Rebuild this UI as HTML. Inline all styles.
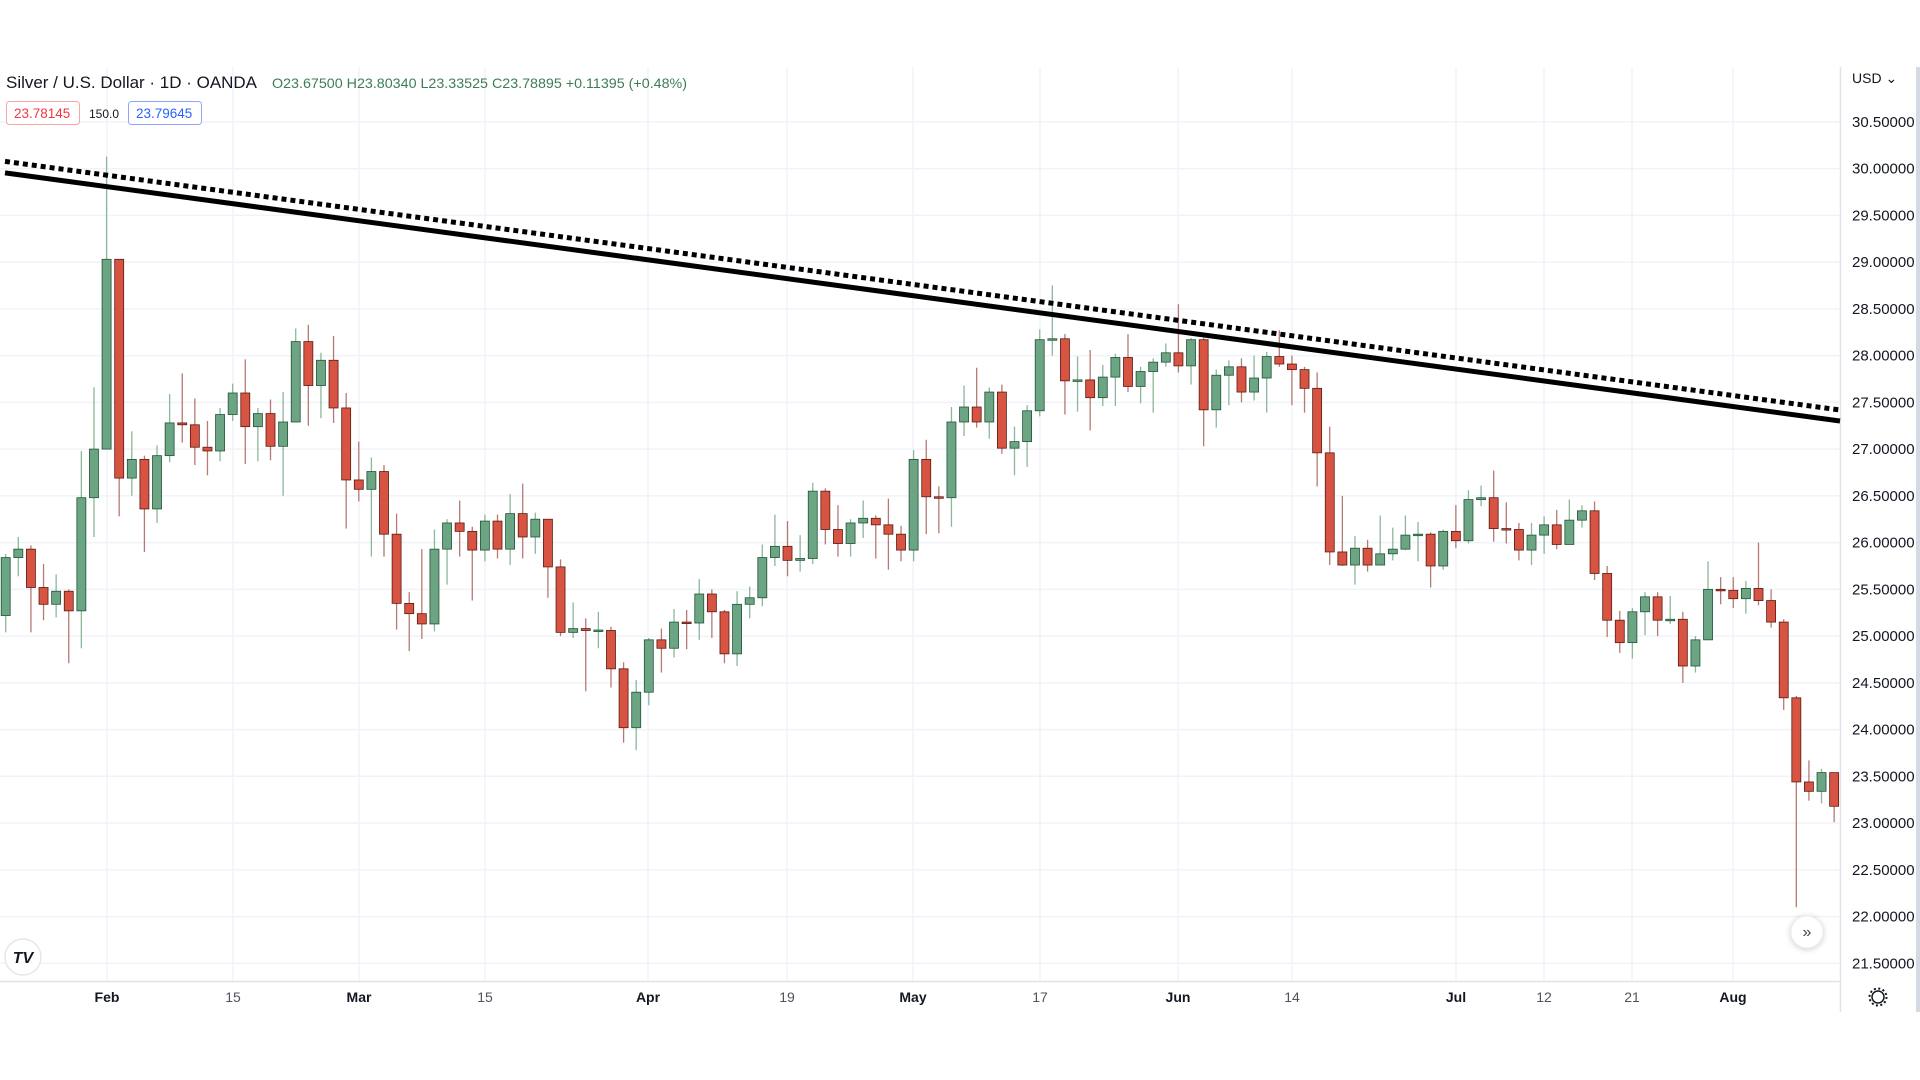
<!DOCTYPE html>
<html><head><meta charset="utf-8"><style>
body{margin:0;width:1920px;height:1080px;background:#fff;overflow:hidden;font-family:"Liberation Sans",sans-serif;}
svg{position:absolute;left:0;top:0}
</style></head><body>
<svg id="s" width="1920" height="1080" xmlns="http://www.w3.org/2000/svg">
<g id="grid"></g>
<line x1="0" y1="981.5" x2="1840" y2="981.5" stroke="#e0e3eb" stroke-width="1.5"/>
<line x1="1840.5" y1="67" x2="1840.5" y2="1012" stroke="#e0e3eb" stroke-width="1.5"/>
<rect x="1916" y="67" width="4" height="945" fill="#d5d9e4"/>
<g id="c"></g>
<line x1="5" y1="172.9" x2="1840" y2="421" stroke="#000" stroke-width="5"/>
<line x1="5" y1="161.4" x2="1840" y2="410" stroke="#000" stroke-width="5" stroke-dasharray="5 4"/>
<g font-size="15" fill="#131722" id="pl"></g>
<g font-size="14" fill="#131722" id="tl" text-anchor="middle"></g>
<text x="1852" y="83" font-size="14" fill="#131722">USD ⌄</text>
<text x="6" y="88" font-size="16.5" fill="#131722" textLength="251" lengthAdjust="spacingAndGlyphs">Silver / U.S. Dollar · 1D · OANDA</text>
<text x="272" y="88" font-size="14" fill="#3d7d55" textLength="415" lengthAdjust="spacingAndGlyphs">O23.67500 H23.80340 L23.33525 C23.78895 +0.11395 (+0.48%)</text>
<rect x="6.5" y="101.5" width="73" height="23" rx="3" fill="#fff" stroke="#f7a5a5"/>
<text x="14" y="118" font-size="13.5" fill="#f23645">23.78145</text>
<text x="89" y="118" font-size="12" fill="#131722">150.0</text>
<rect x="128.5" y="101.5" width="73" height="23" rx="3" fill="#fff" stroke="#8fa8ff"/>
<text x="136" y="118" font-size="13.5" fill="#2962ff">23.79645</text>
<circle cx="23" cy="957" r="18" fill="#fff" stroke="#e6e6e6" stroke-width="1.5"/>
<text x="23" y="963" font-size="16" font-weight="bold" fill="#131722" text-anchor="middle" font-style="italic">TV</text>
<circle cx="1807" cy="932" r="16" fill="#fff" stroke="#eee" style="filter:drop-shadow(0 1px 3px rgba(0,0,0,.2))"/>
<text x="1807" y="937" font-size="16" fill="#444" text-anchor="middle">»</text>
<circle cx="1878" cy="997" r="6" fill="none" stroke="#131722" stroke-width="1.5"/>
<circle cx="1878" cy="997" r="8.5" fill="none" stroke="#131722" stroke-width="2" stroke-dasharray="2 2.45"/>
</svg>
<script>
const NS="http://www.w3.org/2000/svg";
const Y=p=>168.6+(30-p)*93.5;
function el(t,a,par,txt){const e=document.createElementNS(NS,t);for(const k in a)e.setAttribute(k,a[k]);if(txt!==undefined)e.textContent=txt;document.getElementById(par).appendChild(e);return e;}
for(let i=0;i<=18;i++){const p=30.5-i*0.5,y=Y(p);el('line',{x1:0,x2:1840,y1:y,y2:y,stroke:'#f0f3fa','stroke-width':1.5},'grid');
 el('text',{x:1852,y:y+5},'pl',p.toFixed(5));}
const xs=[[107,'Feb',1],[233,'15'],[359,'Mar',1],[485,'15'],[648,'Apr',1],[787,'19'],[913,'May',1],[1040,'17'],[1178,'Jun',1],[1292,'14'],[1456,'Jul',1],[1544,'12'],[1632,'21'],[1733,'Aug',1]];
xs.forEach(a=>{el('line',{x1:a[0],x2:a[0],y1:67,y2:981,stroke:'#f0f3fa','stroke-width':1.5},'grid');
 const t=el('text',{x:a[0],y:1002},'tl',a[1]);if(a[2]){t.setAttribute('font-weight','bold');}else t.setAttribute('fill','#50535e');});
const d=[
[25.22,25.88,25.04,25.84],[25.84,26.06,25.64,25.93],[25.93,25.97,25.04,25.52],[25.52,25.77,25.17,25.34],[25.34,25.66,25.2,25.48],
[25.48,25.5,24.71,25.27],[25.27,26.98,24.87,26.48],[26.48,27.66,26.06,27.0],[27.0,30.13,27.0,29.03],[29.03,29.03,26.28,26.69],
[26.69,27.19,26.5,26.89],[26.89,26.93,25.9,26.36],[26.36,27.04,26.21,26.93],[26.93,27.59,26.86,27.28],[27.28,27.81,27.07,27.26],
[27.26,27.54,26.83,27.02],[27.02,27.3,26.72,26.98],[26.98,27.44,26.87,27.37],[27.37,27.7,27.3,27.6],[27.6,27.96,26.84,27.24],
[27.24,27.44,26.87,27.38],[27.38,27.53,26.88,27.03],[27.03,27.61,26.5,27.29],[27.29,28.29,27.29,28.15],[28.15,28.33,27.25,27.68],
[27.68,28.03,27.33,27.95],[27.95,28.21,27.28,27.44],[27.44,27.6,26.15,26.67],[26.67,27.08,26.44,26.57],[26.57,26.91,25.85,26.76],
[26.76,26.83,25.85,26.09],[26.09,26.31,25.07,25.35],[25.35,25.47,24.84,25.24],[25.24,25.93,24.97,25.13],[25.13,26.14,25.05,25.93],
[25.93,26.25,25.55,26.21],[26.21,26.45,25.85,26.12],[26.12,26.17,25.38,25.92],[25.92,26.3,25.8,26.23],[26.23,26.3,25.83,25.93],
[25.93,26.52,25.76,26.31],[26.31,26.63,25.83,26.06],[26.06,26.32,25.88,26.25],[26.25,26.25,25.41,25.74],[25.74,25.82,25.0,25.04],
[25.04,25.36,24.98,25.08],[25.08,25.19,24.41,25.06],[25.06,25.26,24.87,25.065],[25.06,25.1,24.45,24.65],[24.65,24.72,23.86,24.02],
[24.02,24.53,23.78,24.4],[24.4,24.98,24.26,24.96],[24.96,25.08,24.61,24.87],[24.87,25.29,24.77,25.15],[25.15,25.28,24.86,25.14],
[25.14,25.61,24.96,25.45],[25.45,25.5,24.98,25.26],[25.26,25.28,24.71,24.81],[24.81,25.48,24.68,25.34],[25.34,25.53,25.19,25.41],
[25.41,25.98,25.32,25.84],[25.84,26.3,25.75,25.96],[25.96,26.23,25.64,25.81],[25.81,26.08,25.69,25.83],[25.83,26.64,25.77,26.55],
[26.55,26.58,25.98,26.14],[26.14,26.4,25.85,25.99],[25.99,26.25,25.85,26.21],[26.21,26.45,26.05,26.26],[26.26,26.29,25.83,26.19],
[26.19,26.47,25.71,26.09],[26.09,26.18,25.8,25.92],[25.92,26.99,25.8,26.89],[26.89,27.1,26.09,26.49],[26.49,26.6,26.1,26.48],
[26.48,27.45,26.17,27.29],[27.29,27.68,27.14,27.45],[27.45,27.87,27.23,27.29],[27.29,27.66,27.11,27.61],[27.61,27.69,26.95,27.01],
[27.01,27.24,26.72,27.08],[27.08,27.47,26.81,27.41],[27.41,28.28,27.35,28.17],[28.17,28.75,28.0,28.18],[28.18,28.23,27.37,27.73],
[27.73,27.99,27.4,27.74],[27.74,28.06,27.2,27.55],[27.55,27.9,27.46,27.77],[27.77,28.02,27.46,27.98],[27.98,28.23,27.61,27.67],
[27.67,27.88,27.49,27.83],[27.83,27.97,27.39,27.93],[27.93,28.13,27.88,28.03],[28.03,28.55,27.82,27.89],[27.89,28.19,27.69,28.17],
[28.17,28.19,27.03,27.42],[27.42,27.85,27.23,27.79],[27.79,27.95,27.47,27.88],[27.88,27.97,27.5,27.61],[27.61,28.0,27.52,27.76],
[27.76,28.04,27.39,27.99],[27.99,28.27,27.88,27.91],[27.91,28.0,27.47,27.85],[27.85,27.88,27.39,27.65],[27.65,27.82,26.6,26.96],
[26.96,27.24,25.76,25.9],[25.9,26.5,25.75,25.76],[25.76,26.07,25.55,25.94],[25.94,26.03,25.69,25.76],[25.76,26.29,25.76,25.88],
[25.88,26.16,25.81,25.93],[25.93,26.29,25.92,26.08],[26.08,26.22,25.8,26.09],[26.09,26.11,25.52,25.75],[25.75,26.14,25.71,26.12],
[26.12,26.4,25.94,26.02],[26.02,26.56,25.99,26.46],[26.46,26.61,26.39,26.48],[26.48,26.77,26.01,26.15],[26.15,26.43,25.99,26.14],
[26.14,26.21,25.81,25.92],[25.92,26.21,25.76,26.08],[26.08,26.28,25.88,26.19],[26.19,26.35,25.93,25.98],[25.98,26.46,25.98,26.24],
[26.24,26.4,26.16,26.34],[26.34,26.44,25.6,25.67],[25.67,25.75,24.99,25.17],[25.17,25.27,24.82,24.93],[24.93,25.3,24.76,25.26],
[25.26,25.47,25.01,25.42],[25.42,25.47,25.0,25.17],[25.17,25.43,25.13,25.18],[25.18,25.26,24.5,24.68],[24.68,25.0,24.61,24.96],
[24.96,25.8,24.96,25.5],[25.5,25.63,25.34,25.49],[25.49,25.63,25.3,25.4],[25.4,25.59,25.24,25.51],[25.51,26.0,25.33,25.38],
[25.38,25.5,25.09,25.15],[25.15,25.18,24.21,24.34],[24.34,24.36,22.1,23.44],[23.44,23.67,23.24,23.34],[23.34,23.58,23.21,23.54],
[23.54,23.54,23.01,23.18]];
d.forEach((c,i)=>{const x=5.7+i*12.61,[o,h,l,cl]=c,up=cl>=o;
 el('line',{x1:x,x2:x,y1:Y(h),y2:Y(l),stroke:up?'#8bb79b':'#b57a74','stroke-width':1.3},'c');
 const t=Y(Math.max(o,cl)),b=Y(Math.min(o,cl));
 el('rect',{x:x-4.5,y:t,width:9,height:Math.max(b-t,1.5),fill:up?'#6ba583':'#d75442',stroke:up?'#225437':'#5b1a13','stroke-width':0.8},'c');});
</script>
</body></html>
